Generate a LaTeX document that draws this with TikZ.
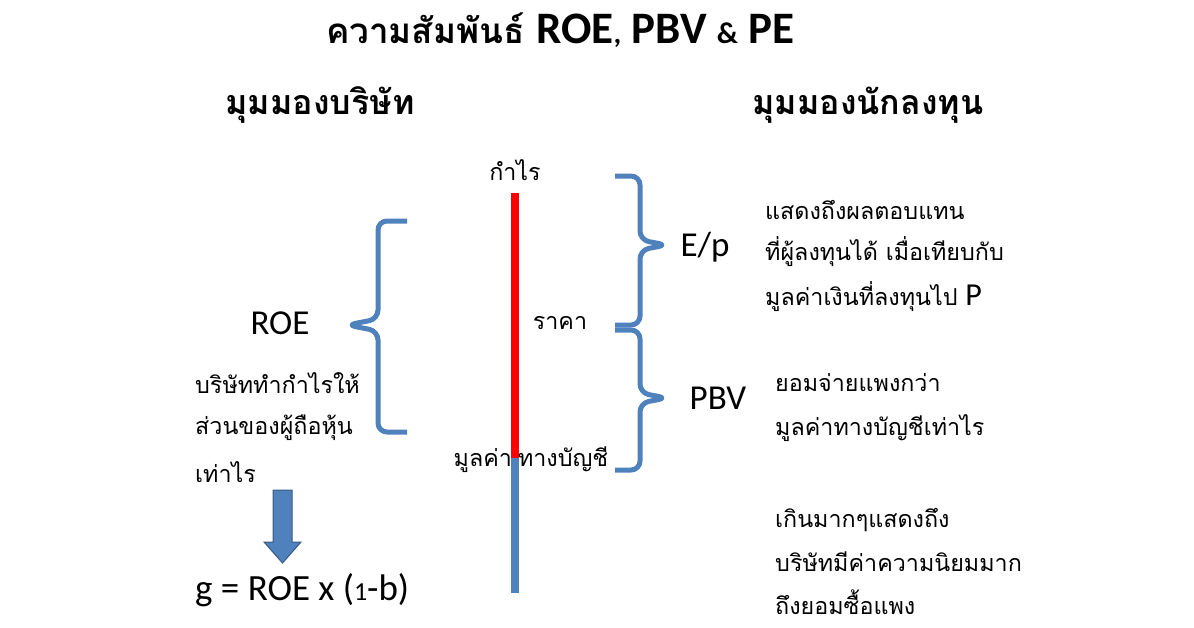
\documentclass[tikz,border=0pt]{standalone}
\usepackage{fontspec}
\setmainfont{Carlito}
\newfontfamily\thai[Script=Thai]{Loma}
\definecolor{bl}{RGB}{79,129,189}
\begin{document}
\begin{tikzpicture}[x=1pt,y=-1pt,
  th/.style={font=\thai\fontsize{23.3}{27}\selectfont,inner sep=0pt},
  thl/.style={th,anchor=west},
  lat/.style={font=\fontsize{35}{40}\selectfont,inner sep=0pt},
  hd/.style={font=\thai\bfseries\fontsize{34}{38}\selectfont,inner sep=0pt},
  br/.style={draw=bl,line width=5pt,rounded corners=9pt,line join=round}]
\useasboundingbox (0,0) rectangle (1194,627);
\node[inner sep=0pt] (title) at (560,30) {\thai\bfseries\fontsize{35}{40}\selectfont ความสัมพันธ์ \fontspec{Carlito}\bfseries\fontsize{45}{50}\selectfont ROE{\fontsize{30}{34}\selectfont,} PBV {\fontsize{30}{34}\selectfont\&} PE};
\node[hd] (h1) at (320,105) {มุมมองบริษัท};
\node[hd] (h2) at (868,105) {มุมมองนักลงทุน};
\coordinate (ltop) at (515,193);
\coordinate (lmid) at (515,458);
\coordinate (lbot) at (515,593);
\draw[red,line width=8pt] (ltop) -- (lmid);
\draw[bl,line width=8pt] (lmid) -- (lbot);
\node[th] (kamrai) at (515,170) {กำไร};
\node[th] (rakha) at (560,323) {ราคา};
\node[th] (book) at (531,460) {มูลค่า\hspace{6pt}ทางบัญชี};
\draw[br] (407,221) -- (378,221) -- (378,319) -- (347,325) -- (378,331) -- (378,432) -- (407,432);
\draw[br] (615,176) -- (640,176) -- (640,240) -- (667,245) -- (640,250) -- (640,325) -- (615,325);
\draw[br] (615,330) -- (640,330) -- (640,393) -- (667,398) -- (640,403) -- (640,470) -- (615,470);
\node[lat] (roe) at (280,323) {ROE};
\node[lat] (ep) at (705,247) {E/p};
\node[lat] (pbv) at (718,398) {PBV};
\node[thl] (t1) at (195,383) {บริษัททำกำไรให้};
\node[thl] (t2) at (195,428) {ส่วนของผู้ถือหุ้น};
\node[thl] (t3) at (195,472) {เท่าไร};
\draw[draw=bl!70!black,fill=bl,line width=1pt] (273,490) -- (292,490) -- (292,542) -- (301,542) -- (282.5,563) -- (264,542) -- (273,542) -- cycle;
\node[lat,anchor=west,font=\fontsize{37}{42}\selectfont] (g) at (195,590) {g = ROE x ({\fontsize{26}{30}\selectfont 1}-b)};
\node[thl] (r1) at (765,210) {แสดงถึงผลตอบแทน};
\node[thl] (r2) at (765,252) {ที่ผู้ลงทุนได้ เมื่อเทียบกับ};
\node[thl] (r3) at (765,297) {มูลค่าเงินที่ลงทุนไป \fontspec{Carlito}\fontsize{32}{36}\selectfont P};
\node[thl] (r4) at (775,383) {ยอมจ่ายแพงกว่า};
\node[thl] (r5) at (775,428) {มูลค่าทางบัญชีเท่าไร};
\node[thl] (r6) at (775,520) {เกินมากๆแสดงถึง};
\node[thl] (r7) at (775,562) {บริษัทมีค่าความนิยมมาก};
\node[thl] (r8) at (775,602) {ถึงยอมซื้อแพง};
\end{tikzpicture}
\end{document}
